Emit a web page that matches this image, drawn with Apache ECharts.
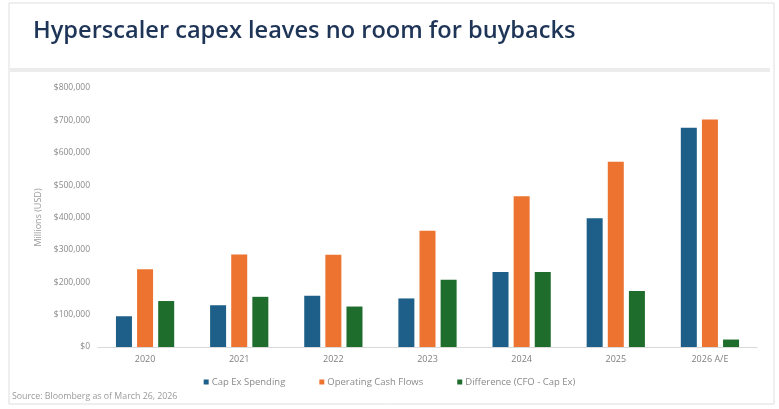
<!DOCTYPE html>
<html><head><meta charset="utf-8">
<script src="https://cdn.jsdelivr.net/npm/echarts@6/dist/echarts.min.js"></script>
<style>html,body{margin:0;padding:0;background:#fff}#c{width:779px;height:409px}</style>
</head><body><div id="c"></div>
<script>
const categories = ['2020','2021','2022','2023','2024','2025','2026 A/E'];
const capex = [95000,129000,158000,150000,232000,398000,677000];
const cfo = [240000,286000,285000,359000,466000,572000,703000];
const diff = [142000,155000,125000,208000,232000,173000,23000];
const yTicks = [0,100000,200000,300000,400000,500000,600000,700000,800000];

const chart = echarts.init(document.getElementById('c'), null, {renderer:'canvas'});
const fmt = v => '$' + (v === 0 ? '0' : v.toLocaleString('en-US'));
const F = 'Open Sans';
chart.setOption({
  animation:false,
  backgroundColor:'#fff',
  title:{text:'Hyperscaler capex leaves no room for buybacks',left:28,top:14,
    textStyle:{fontFamily:F,fontWeight:600,fontSize:23.6,color:'#1f3558'}},
  graphic:[
    {type:'rect',shape:{x:9,y:3,width:765,height:401},style:{fill:'none',stroke:'#dedede',lineWidth:1},silent:true},
    {type:'rect',shape:{x:10,y:68,width:760,height:4},style:{fill:'#ececec'},silent:true},
    {type:'text',left:12,top:392,style:{text:'Source: Bloomberg as of March 26, 2026',fontSize:8.8,fontFamily:F,fill:'#9a9a9a'}}
  ],
  legend:{top:372,left:'center',itemWidth:5,itemHeight:5,itemGap:34,icon:'rect',
    textStyle:{fontSize:9.5,fontFamily:F,color:'#8a8a8a',padding:[0,0,0,-2]},
    data:['Cap Ex Spending','Operating Cash Flows','Difference (CFO - Cap Ex)']},
  grid:{left:98,right:22,top:88,bottom:62},
  xAxis:{type:'category',data:categories,
    axisLine:{lineStyle:{color:'#d9d9d9'}},axisTick:{show:false},
    axisLabel:{fontSize:9,fontFamily:F,color:'#7f7f7f',margin:8}},
  yAxis:{type:'value',min:0,max:800000,interval:100000,
    name:'Millions (USD)',nameLocation:'middle',nameGap:50,nameRotate:90,
    nameTextStyle:{fontSize:9,fontFamily:F,color:'#9a9a9a'},
    axisLine:{show:false},axisTick:{show:false},splitLine:{show:false},
    axisLabel:{formatter:v=>fmt(v),fontSize:8.5,fontFamily:F,color:'#8a8a8a',margin:8,
      customValues:yTicks}},
  series:[
    {name:'Cap Ex Spending',type:'bar',data:capex,barWidth:16,barGap:'32%',itemStyle:{color:'#1d5f88'}},
    {name:'Operating Cash Flows',type:'bar',data:cfo,barWidth:16,barGap:'32%',itemStyle:{color:'#ed7430'}},
    {name:'Difference (CFO - Cap Ex)',type:'bar',data:diff,barWidth:16,barGap:'32%',itemStyle:{color:'#1f6d2c'}}
  ]
});
</script></body></html>
